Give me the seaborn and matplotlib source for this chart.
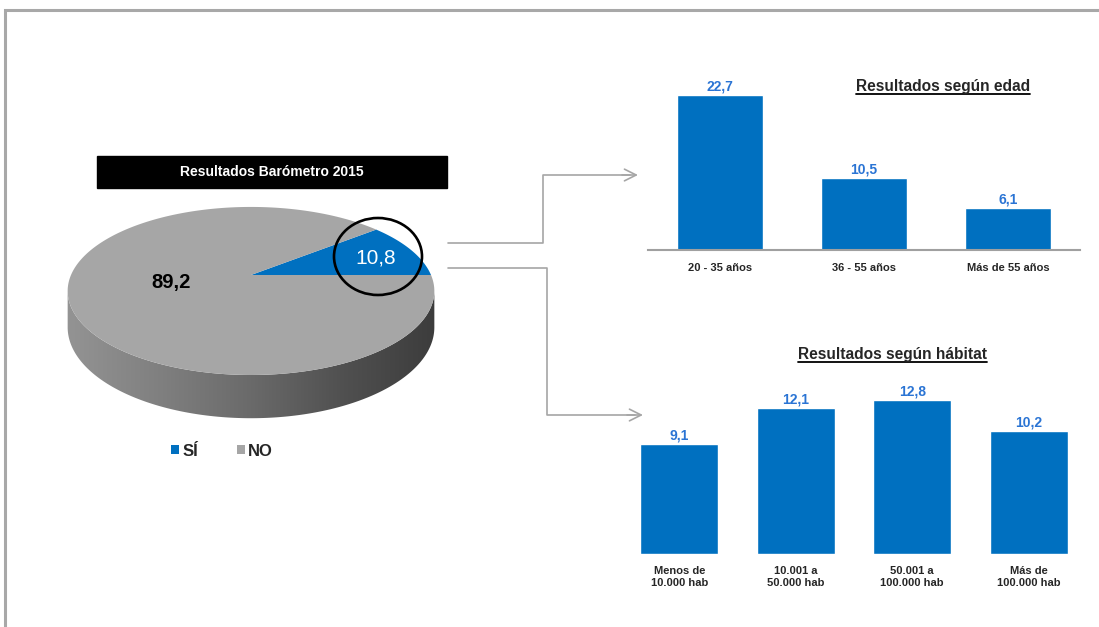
import numpy as np
import pandas as pd
import matplotlib
matplotlib.use('Agg')
import matplotlib.pyplot as plt
import seaborn as sns
from matplotlib.patches import Rectangle, Ellipse, Polygon
from matplotlib.colors import LinearSegmentedColormap
from matplotlib.path import Path
import matplotlib.transforms as mtransforms

# ---------------- data ----------------
pie_labels = ["SÍ", "NO"]
pie_values = [10.8, 89.2]
age_cats = ["20 - 35 años", "36 - 55 años", "Más de 55 años"]
age_values = [22.7, 10.5, 6.1]
hab_cats = ["Menos de\n10.000 hab", "10.001 a\n50.000 hab",
            "50.001 a\n100.000 hab", "Más de\n100.000 hab"]
hab_values = [9.1, 12.1, 12.8, 10.2]

pie_title = "Resultados Barómetro 2015"
age_title = "Resultados según edad"
hab_title = "Resultados según hábitat"


def fmt(v):
    return f"{v:.1f}".replace('.', ',')


W, H = 1099, 627
BLUE = '#0070c0'
GRAY = '#a6a6a6'
LABEL_BLUE = '#2a74d4'
LINE_GRAY = '#a8a8a8'

sns.set_theme(style='white')
plt.rcParams['font.family'] = ['Liberation Sans', 'DejaVu Sans']

fig = plt.figure(figsize=(W / 100, H / 100), dpi=100)
fig.patch.set_facecolor('white')


def rect(x0, y0, x1, y1):
    return [x0 / W, 1 - y1 / H, (x1 - x0) / W, (y1 - y0) / H]


# background overlay in pixel coordinates
bg = fig.add_axes([0, 0, 1, 1])
bg.set_xlim(0, W)
bg.set_ylim(H, 0)
bg.axis('off')

# frame
bg.plot([4.5, 4.5, W], [H, 9.5, 9.5], color=LINE_GRAY, lw=2.2,
        solid_joinstyle='miter', solid_capstyle='butt')

# title box of pie
bg.add_patch(Rectangle((97, 156), 350, 32, color='black'))
bg.text(272, 172.5, pie_title, color='white', fontsize=10, fontweight='bold',
        ha='center', va='center')

# connector arrows
arrow_gray = '#a6a6a6'
bg.plot([448, 543, 543, 630], [243, 243, 175, 175], color=arrow_gray, lw=1.2)
bg.annotate('', xy=(638, 175), xytext=(622, 175),
            arrowprops=dict(arrowstyle='->,head_length=0.7,head_width=0.35',
                            color=arrow_gray, lw=1.2, shrinkA=0, shrinkB=0))
bg.plot([448, 547, 547, 635], [268, 268, 415, 415], color=arrow_gray, lw=1.2)
bg.annotate('', xy=(643, 415), xytext=(627, 415),
            arrowprops=dict(arrowstyle='->,head_length=0.7,head_width=0.35',
                            color=arrow_gray, lw=1.2, shrinkA=0, shrinkB=0))


# ---------------- pie (perspective 3D look) ----------------
class Perspective(mtransforms.Transform):
    """Projects the unit pie disk onto a tilted plane seen in perspective."""
    input_dims = output_dims = 2

    def __init__(self, sx, sy, k):
        super().__init__()
        self.sx, self.sy, self.k = sx, sy, k

    def transform_non_affine(self, values):
        v = np.asarray(values, dtype=float).reshape(-1, 2)
        w = 1 + self.k * v[:, 1]
        return np.column_stack([self.sx * v[:, 0] / w, self.sy * v[:, 1] / w])

    def transform_path_non_affine(self, path):
        pts = []
        for seg, code in path.iter_bezier():
            cp = seg.control_points
            if code == Path.MOVETO:
                pts.append(cp[:1])
            elif len(cp) == 2:
                pts.append(cp[1:])
            else:
                pts.append(seg(np.linspace(0, 1, 30))[1:])
        if not pts:
            return path
        v = self.transform_non_affine(np.concatenate(pts))
        codes = [Path.MOVETO] + [Path.LINETO] * (len(v) - 1)
        return Path(v, codes)


SX, SY, K = 180.0, 81.0, 0.19
H0 = 35.0  # thickness of the disc
ACX, ACY = 251, 275  # apex pixel
proj = Perspective(SX, SY, K)

pax = fig.add_axes(rect(40, 190, 460, 440))

# side of the disc (visible front part)
t0 = np.pi + np.arcsin(K)
t1 = 2 * np.pi - np.arcsin(K)
tt = np.linspace(t0, t1, 400)
top = proj.transform_non_affine(np.column_stack([np.cos(tt), np.sin(tt)]))
thick = H0 / (1 + K * np.sin(tt))
bot = top.copy()
bot[:, 1] -= thick
side_poly = np.concatenate([top, bot[::-1]])
side = Polygon(side_poly, closed=True, facecolor='none', edgecolor='none')
pax.add_patch(side)
cmap = LinearSegmentedColormap.from_list(
    'side', ['#949494', '#808080', '#6a6a6a', '#505050', '#3c3c3c'])
grad = np.linspace(0, 1, 256)[None, :]
im = pax.imshow(grad, extent=(-186, 186, -170, 5), cmap=cmap,
                aspect='auto', zorder=0.5, interpolation='bilinear')
im.set_clip_path(side)

wedges, _ = pax.pie(pie_values, colors=[BLUE, GRAY], startangle=0,
                    counterclock=True, radius=1, center=(0, 0),
                    wedgeprops=dict(linewidth=0))
for w_ in wedges:
    w_.set_transform(proj + pax.transData)
    w_.set_zorder(1)
pax.set_aspect('auto')
pax.set_xlim(40 - ACX, 460 - ACX)
pax.set_ylim(ACY - 440, ACY - 190)
pax.axis('off')

pax.text(171 - ACX, ACY - 283, fmt(pie_values[1]), fontsize=14.5,
         fontweight='bold', color='black', ha='center', va='center')
pax.text(376 - ACX, ACY - 258, fmt(pie_values[0]), fontsize=15,
         color='white', ha='center', va='center')
pax.add_patch(Ellipse((378 - ACX, ACY - 256.5), 88, 77,
                      fill=False, edgecolor='black', lw=1.9, zorder=3))

fig.legend(wedges[:2], pie_labels, loc='center',
           bbox_to_anchor=(222 / W, 1 - 451 / H), ncol=2, frameon=False,
           prop=dict(size=12, weight='bold'), handlelength=0.5,
           handleheight=0.5, handletextpad=0.2, columnspacing=2.3)

# ---------------- age bars ----------------
ax1 = fig.add_axes(rect(648, 60, 1080, 250))
df_age = pd.DataFrame({'cat': age_cats, 'val': age_values})
sns.barplot(data=df_age, x='cat', y='val', color=BLUE, saturation=1,
            width=0.6, ax=ax1)
ax1.set_xlim(-0.5, 2.5)
ax1.set_ylim(0, 190 / 6.85)
ax1.set_xlabel('')
ax1.set_ylabel('')
ax1.set_yticks([])
for s in ['left', 'right', 'top']:
    ax1.spines[s].set_visible(False)
ax1.spines['bottom'].set_color('#a0a0a0')
ax1.spines['bottom'].set_linewidth(1.5)
ax1.tick_params(axis='x', length=0, pad=9.5, labelsize=8)
for lab in ax1.get_xticklabels():
    lab.set_fontweight('bold')
ax1.bar_label(ax1.containers[0], labels=[fmt(v) for v in age_values],
              padding=1, color=LABEL_BLUE, fontsize=10, fontweight='bold')
ax1.patch.set_alpha(0)

# ---------------- habitat bars ----------------
ax2 = fig.add_axes(rect(621, 340, 1087, 554))
df_hab = pd.DataFrame({'cat': hab_cats, 'val': hab_values})
sns.barplot(data=df_hab, x='cat', y='val', color=BLUE, saturation=1,
            width=0.67, ax=ax2)
ax2.set_xlim(-0.5, 3.5)
ax2.set_ylim(0, 214 / 12.05)
ax2.set_xlabel('')
ax2.set_ylabel('')
ax2.set_yticks([])
for s in ['left', 'right', 'top', 'bottom']:
    ax2.spines[s].set_visible(False)
ax2.tick_params(axis='x', length=0, pad=9, labelsize=8)
for lab in ax2.get_xticklabels():
    lab.set_fontweight('bold')
    lab.set_linespacing(1.2)
ax2.bar_label(ax2.containers[0], labels=[fmt(v) for v in hab_values],
              padding=1, color=LABEL_BLUE, fontsize=10, fontweight='bold')
ax2.patch.set_alpha(0)

# ---------------- underlined titles ----------------
t1 = bg.text(943, 87, age_title, fontsize=11.2, fontweight='bold',
             ha='center', va='center')
t2 = bg.text(892, 355, hab_title, fontsize=11.2, fontweight='bold',
             ha='center', va='center')
fig.canvas.draw()
inv = bg.transData.inverted()
for t in (t1, t2):
    bb = t.get_window_extent()
    (x0, y0) = inv.transform((bb.x0, bb.y0))
    (x1, _) = inv.transform((bb.x1, bb.y0))
    bg.plot([x0, x1], [y0 - 1.0, y0 - 1.0], color='black', lw=1.3)

fig.savefig('out.png', dpi=100)
